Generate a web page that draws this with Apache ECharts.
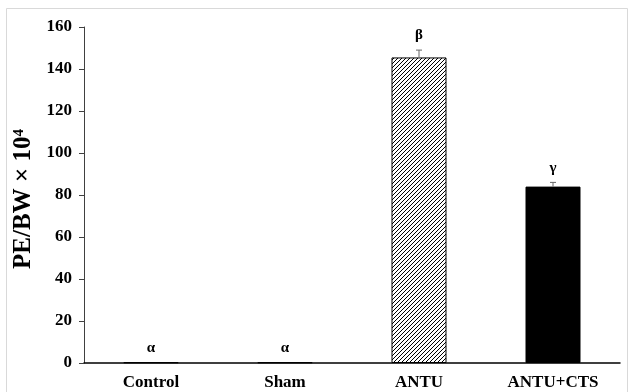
<!DOCTYPE html>
<html>
<head>
<meta charset="utf-8">
<script src="https://cdn.jsdelivr.net/npm/echarts@6/dist/echarts.min.js"></script>
<style>html,body{margin:0;padding:0;background:#fff}#c{width:632px;height:392px}</style>
</head>
<body>
<div id="c"></div>
<script>
const categories = ['Control', 'Sham', 'ANTU', 'ANTU+CTS'];
const means = [0.3, 0.3, 145.5, 84];
const errors = [0, 0, 3.5, 2.0];
const letters = ['α', 'α', 'β', 'γ'];
const yTicks = [0, 20, 40, 60, 80, 100, 120, 140, 160];

const FONT = '"Liberation Serif", "DejaVu Serif", serif';

function hatch() {
  const c = document.createElement('canvas');
  c.width = 4; c.height = 4;
  const g = c.getContext('2d');
  g.fillStyle = '#fff'; g.fillRect(0, 0, 4, 4);
  g.strokeStyle = '#000'; g.lineWidth = 1;
  g.beginPath();
  g.moveTo(0, 4); g.lineTo(4, 0);
  g.moveTo(-1, 1); g.lineTo(1, -1);
  g.moveTo(3, 5); g.lineTo(5, 3);
  g.stroke();
  return c;
}

const fills = ['#000', '#000', { image: hatch(), repeat: 'repeat' }, '#000'];

const chart = echarts.init(document.getElementById('c'), null, { renderer: 'canvas' });
chart.setOption({
  animation: false,
  backgroundColor: '#fff',
  graphic: [{
    type: 'rect', silent: true, z: -10,
    shape: { x: 6.5, y: 8.5, width: 621, height: 400 },
    style: { fill: 'none', stroke: '#d9d9d9', lineWidth: 1 }
  }],
  grid: { left: 84, right: 12, top: 27, bottom: 29 },
  xAxis: {
    type: 'category',
    data: categories,
    axisLine: { lineStyle: { color: '#000', width: 1.5 } },
    axisTick: { show: false },
    axisLabel: { margin: 11, fontFamily: FONT, fontWeight: 'bold', fontSize: 17, color: '#000' }
  },
  yAxis: {
    type: 'value',
    min: yTicks[0], max: yTicks[yTicks.length - 1], interval: 20,
    name: 'PE/BW × 10⁴',
    nameLocation: 'middle',
    nameGap: 48,
    nameTextStyle: { fontFamily: FONT, fontWeight: 'bold', fontSize: 25, color: '#000', padding: [0, 8, 0, 0] },
    axisLine: { show: true, lineStyle: { color: '#404040', width: 1 } },
    axisTick: { show: true, length: 5, lineStyle: { color: '#404040' } },
    splitLine: { show: false },
    axisLabel: { margin: 12, fontFamily: FONT, fontWeight: 'bold', fontSize: 17, color: '#000' }
  },
  series: [{
    type: 'bar',
    barWidth: 55,
    data: means.map((v, i) => ({ value: v, itemStyle: { color: fills[i], borderColor: '#000', borderWidth: 1 } })),
    z: 2
  }, {
    type: 'custom',
    z: 3,
    data: means.map((v, i) => [i, v, errors[i]]),
    renderItem: (params, api) => {
      const i = api.value(0), v = api.value(1), e = api.value(2);
      const p0 = api.coord([i, v]);
      const p1 = api.coord([i, v + e]);
      const children = [];
      if (e > 0) {
        children.push({ type: 'line', shape: { x1: p0[0], y1: p0[1], x2: p1[0], y2: p1[1] }, style: { stroke: '#666', lineWidth: 1 } });
        children.push({ type: 'line', shape: { x1: p1[0] - 3, y1: p1[1], x2: p1[0] + 3, y2: p1[1] }, style: { stroke: '#666', lineWidth: 1 } });
      }
      children.push({
        type: 'text',
        style: {
          text: letters[params.dataIndex], x: p1[0], y: p1[1] - 7,
          align: 'center', verticalAlign: 'bottom',
          font: 'bold 15px ' + FONT, fill: '#000'
        }
      });
      return { type: 'group', children };
    }
  }]
});
</script>
</body>
</html>
